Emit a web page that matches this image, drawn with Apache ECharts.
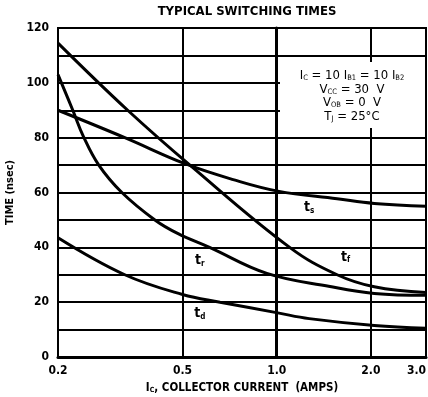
<!DOCTYPE html>
<html>
<head>
<meta charset="utf-8">
<script src="https://cdn.jsdelivr.net/npm/echarts@6/dist/echarts.min.js"></script>
<style>
html, body { margin: 0; padding: 0; background: #fff; }
#chart { width: 428px; height: 397px; }
</style>
</head>
<body>
<div id="chart"></div>
<script>
var FONT = "'Liberation Sans Narrow', 'DejaVu Sans Condensed', 'Arial Narrow', sans-serif";

// collector current (amps) -> time (nsec)
var tsCurrent = [0.2, 0.327, 0.509, 0.726, 1.008, 1.56, 2.05, 3.0];
var tsTime    = [90, 80, 70.5, 64.7, 60.5, 57.7, 56, 55];

var tfCurrent = [0.2, 0.334, 0.528, 1.10, 1.56, 2.05, 3.0];
var tfTime    = [114.5, 90, 70, 40, 30, 25.6, 23.5];

var trCurrent = [0.2, 0.223, 0.241, 0.27, 0.320, 0.408, 0.484, 0.61, 0.93, 1.48, 2.05, 3.0];
var trTime    = [103, 90, 80.5, 70, 60, 50, 45, 40, 30.5, 25.7, 23.2, 22.5];

var tdCurrent = [0.2, 0.327, 0.5, 0.659, 1.008, 1.27, 2.05, 3.0];
var tdTime    = [43.5, 30, 22.8, 20, 16.1, 14, 11.5, 10.5];

var xTicks = [0.2, 0.5, 1.0, 2.0, 3.0];

// where the curve names sit (amps, nsec)
var labelNames   = ['s', 'f', 'r', 'd'];
var labelCurrent = [1.27, 1.66, 0.568, 0.568];
var labelTime    = [54.4, 36.4, 35.2, 15.8];

function lg(v) { return Math.log(v) / Math.LN10; }

function toPairs(cur, t) {
	var out = [];
	for (var i = 0; i < cur.length; i++) out.push([lg(cur[i]), t[i]]);
	return out;
}

var subRich = {
	n: { fontFamily: FONT, fontWeight: 'bold', fontSize: 14, color: '#000' },
	s: { fontFamily: FONT, fontWeight: 'bold', fontSize: 8, color: '#000', padding: [6, 0, 0, 0] }
};

function makeSeries(cur, t, idx) {
	return {
		type: 'line',
		data: toPairs(cur, t),
		symbol: 'none',
		smooth: 0.4,
		lineStyle: { color: '#000', width: 3 },
		silent: true,
		markPoint: {
			symbol: 'circle',
			symbolSize: 0,
			silent: true,
			data: [{ coord: [lg(labelCurrent[idx]), labelTime[idx]] }],
			label: {
				show: true,
				position: 'inside',
				formatter: '{n|t}{s|' + labelNames[idx] + '}',
				rich: subRich
			}
		}
	};
}

var myChart = echarts.init(document.getElementById('chart'));

var option = {
	animation: false,
	backgroundColor: '#fff',
	title: {
		text: 'TYPICAL SWITCHING TIMES',
		left: 247,
		top: 5,
		padding: 0,
		textAlign: 'center',
		textStyle: { fontFamily: FONT, fontWeight: 'bold', fontSize: 13, color: '#000' }
	},
	grid: {
		left: 58, right: 2, top: 28, bottom: 40,
		outerBoundsMode: 'none',
		containLabel: false,
		show: true, borderColor: '#000', borderWidth: 2
	},
	xAxis: {
		type: 'value',
		min: lg(0.2),
		max: lg(3.0),
		name: '{n|I}{s|C}{n|, COLLECTOR CURRENT  (AMPS)}',
		nameLocation: 'middle',
		nameGap: 25,
		nameTextStyle: { rich: { n: { fontFamily: FONT, fontWeight: 'bold', fontSize: 11.5, color: '#000' }, s: { fontFamily: FONT, fontWeight: 'bold', fontSize: 7, color: '#000', padding: [5, 0, 0, 0] } } },
		axisLine: { lineStyle: { color: '#000', width: 3 } },
		axisTick: { show: false, customValues: xTicks.map(lg) },
		axisLabel: {
			customValues: xTicks.map(lg),
			fontFamily: FONT, fontWeight: 'bold', fontSize: 12, color: '#000',
			margin: 8,
			alignMaxLabel: 'right',
			formatter: function (v) { return (Math.round(Math.pow(10, v) * 10) / 10).toFixed(1); }
		},
		splitLine: { show: true, lineStyle: { color: '#000', width: 2 } }
	},
	yAxis: {
		type: 'value',
		min: 0, max: 120, interval: 10,
		name: 'TIME (nsec)',
		nameLocation: 'middle',
		nameGap: 40,
		nameTextStyle: { fontFamily: FONT, fontWeight: 'bold', fontSize: 11, color: '#000' },
		axisLine: { show: true, lineStyle: { color: '#000', width: 3 } },
		axisTick: { show: false },
		axisLabel: {
			fontFamily: FONT, fontWeight: 'bold', fontSize: 12, color: '#000', margin: 9,
			formatter: function (v) { return v % 20 === 0 ? String(v) : ''; }
		},
		splitLine: { show: true, lineStyle: { color: '#000', width: 2 } }
	},
	series: [
		makeSeries(tsCurrent, tsTime, 0),
		makeSeries(tfCurrent, tfTime, 1),
		makeSeries(trCurrent, trTime, 2),
		makeSeries(tdCurrent, tdTime, 3)
	],
	graphic: [
		{ type: 'rect', z: 50, shape: { x: 280, y: 62, width: 145, height: 66 }, style: { fill: '#fff' } },
		{
			type: 'text', z: 51, x: 352, y: 96,
			style: {
				text: '{n|I}{s|C}{n| = 10 I}{s|B1}{n| = 10 I}{s|B2}\n{n|V}{s|CC}{n| = 30  V}\n{n|V}{s|OB}{n| = 0  V}\n{n|T}{s|J}{n| = 25°C}',
				align: 'center', verticalAlign: 'middle',
				lineHeight: 13.5,
				rich: {
					n: { fontFamily: FONT, fontSize: 13, color: '#000', lineHeight: 13.5 },
					s: { fontFamily: FONT, fontSize: 7.5, color: '#000', lineHeight: 13.5, padding: [5, 0, 0, 0] }
				}
			}
		}
	]
};

myChart.setOption(option);
</script>
</body>
</html>
